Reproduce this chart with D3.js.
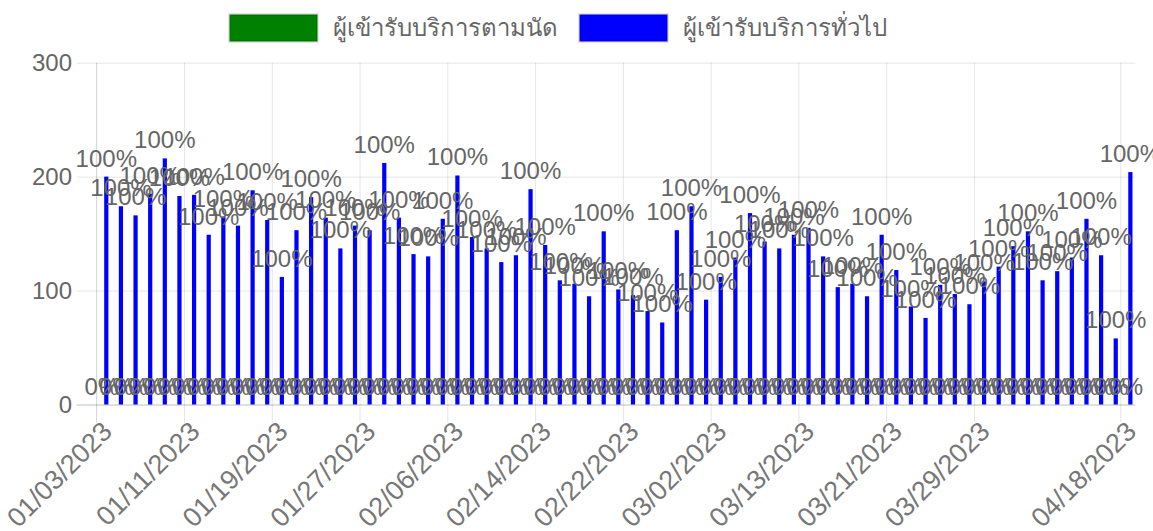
<meta charset="utf-8">
<head>
  <title>Daily visits</title>
</head>

<style>
body { margin: 0; background: #fff; }
text { font-family: "Liberation Sans", Arial, Helvetica, sans-serif; }
</style>

<body>
  <div id="content"></div>
  <script src="https://cdnjs.cloudflare.com/ajax/libs/d3/7.8.5/d3.min.js"></script>
  <script>

const width = 1153
const height = 531

// dates on the x axis (working days only)
var dates = [
  '01/03/2023','01/04/2023','01/05/2023','01/06/2023','01/09/2023','01/10/2023','01/11/2023',
  '01/12/2023','01/13/2023','01/16/2023','01/17/2023','01/18/2023','01/19/2023','01/20/2023',
  '01/23/2023','01/24/2023','01/25/2023','01/26/2023','01/27/2023','01/30/2023','01/31/2023',
  '02/01/2023','02/02/2023','02/03/2023','02/06/2023','02/07/2023','02/08/2023','02/09/2023',
  '02/10/2023','02/13/2023','02/14/2023','02/15/2023','02/16/2023','02/17/2023','02/20/2023',
  '02/21/2023','02/22/2023','02/23/2023','02/24/2023','02/27/2023','02/28/2023','03/01/2023',
  '03/02/2023','03/03/2023','03/07/2023','03/08/2023','03/09/2023','03/10/2023','03/13/2023',
  '03/14/2023','03/15/2023','03/16/2023','03/17/2023','03/20/2023','03/21/2023','03/22/2023',
  '03/23/2023','03/24/2023','03/27/2023','03/28/2023','03/29/2023','03/30/2023','03/31/2023',
  '04/03/2023','04/04/2023','04/05/2023','04/07/2023','04/10/2023','04/11/2023','04/12/2023',
  '04/18/2023'
]

// x tick labels that the chart shows
var xTickLabels = ['01/03/2023','01/11/2023','01/19/2023','01/27/2023','02/06/2023','02/14/2023',
  '02/22/2023','03/02/2023','03/13/2023','03/21/2023','03/29/2023','04/18/2023']

var yTicks = [0, 100, 200, 300]

// appointment visits (green)
var appointment = [
  0,0,0,0,0,0,0,0,0,0,0,0,0,0,0,0,0,0,0,0,0,0,0,0,
  0,0,0,0,0,0,0,0,0,0,0,0,0,0,0,0,0,0,0,0,0,0,0,0,
  0,0,0,0,0,0,0,0,0,0,0,0,0,0,0,0,0,0,0,0,0,0,0
]

// general visits (blue)
var general = [
  200,174,166,185,216,183,184,149,165,157,188,162,112,153,
  182,164,137,157,153,212,164,132,130,163,201,147,137,125,
  131,189,140,109,106,95,152,101,96,82,72,153,174,92,
  112,129,168,143,137,149,155,130,103,106,95,149,118,86,
  76,105,97,88,108,121,139,152,109,117,129,163,131,58,
  204
]

var seriesNames = ['ผู้เข้ารับบริการตามนัด', 'ผู้เข้ารับบริการทั่วไป']
var seriesColors = ['green', 'blue']

var rows = dates.map(function(d, i) {
  var total = appointment[i] + general[i]
  return {
    date: d,
    values: [appointment[i], general[i]],
    pct: [appointment[i], general[i]].map(function(v) {
      return total ? Math.round(v / total * 100) : 0
    })
  }
})

var plotLeft = 96.7, plotRight = 1135.4, plotTop = 62.7, plotBottom = 404.5

const svg = d3.select('#content')
  .append('svg')
    .attr('width', width)
    .attr('height', height)

var x = d3.scaleBand()
  .domain(dates)
  .range([plotLeft, plotRight])

var inner = d3.scaleBand()
  .domain([0, 1])
  .range([x.bandwidth() * 0.2, x.bandwidth() * 0.8])
  .paddingInner(0.08)

var y = d3.scaleLinear()
  .domain([0, 300])
  .range([plotBottom, plotTop])

// horizontal grid
svg.append('g')
  .attr('transform', 'translate(' + plotRight + ',0)')
  .call(d3.axisLeft(y).tickValues(yTicks).tickSize(plotRight - plotLeft + 20).tickFormat(''))
  .call(function(g) {
    g.select('.domain').remove()
    g.selectAll('line')
      .attr('stroke', function(d) { return d == 0 ? 'rgba(0,0,0,0.25)' : 'rgba(0,0,0,0.1)' })
  })

// y labels
svg.append('g')
  .selectAll('text')
  .data(yTicks)
  .enter()
  .append('text')
    .attr('x', 72)
    .attr('y', function(d) { return y(d) })
    .attr('dy', '0.35em')
    .attr('text-anchor', 'end')
    .attr('fill', '#666')
    .style('font-size', '24px')
    .text(function(d) { return d })

// vertical grid at the shown ticks (left edge of each category)
svg.append('g')
  .selectAll('line')
  .data(xTickLabels)
  .enter()
  .append('line')
    .attr('x1', function(d) { return x(d) })
    .attr('x2', function(d) { return x(d) })
    .attr('y1', plotTop)
    .attr('y2', plotBottom + 18)
    .attr('stroke', function(d, i) { return i == 0 ? 'rgba(0,0,0,0.18)' : 'rgba(0,0,0,0.1)' })

svg.append('g')
  .selectAll('text')
  .data(xTickLabels)
  .enter()
  .append('text')
    .attr('transform', function(d) {
      return 'translate(' + (x(d) + x.bandwidth() / 2 + 3) + ',' + (plotBottom + 22) + ') rotate(-45)'
    })
    .attr('dy', '0.35em')
    .attr('text-anchor', 'end')
    .attr('fill', '#777')
    .style('font-size', '27px')
    .text(function(d) { return d })

// bars
var groups = svg.append('g')
  .selectAll('g')
  .data(rows)
  .enter()
  .append('g')
    .attr('transform', function(d) { return 'translate(' + x(d.date) + ',0)' })

groups.selectAll('rect')
  .data(function(d) { return d.values })
  .enter()
  .append('rect')
    .attr('x', function(d, i) { return inner(i) })
    .attr('width', inner.bandwidth())
    .attr('y', function(d) { return y(d) })
    .attr('height', function(d) { return plotBottom - y(d) })
    .attr('fill', function(d, i) { return seriesColors[i] })

// data labels, first series then second
seriesNames.forEach(function(name, s) {
  svg.append('g')
    .selectAll('text')
    .data(rows)
    .enter()
    .append('text')
      .attr('x', function(d) { return x(d.date) + inner(s) + inner.bandwidth() / 2 })
      .attr('y', function(d) { return y(d.values[s]) - 10 })
      .attr('text-anchor', 'middle')
      .attr('fill', '#666')
      .style('font-size', '24px')
      .text(function(d) { return d.pct[s] + '%' })
})

// legend
var legend = svg.append('g').attr('transform', 'translate(228,0)')
var lx = 0
seriesNames.forEach(function(name, s) {
  var item = legend.append('g').attr('transform', 'translate(' + lx + ',0)')
  item.append('rect')
    .attr('x', 1.5)
    .attr('y', 14.5)
    .attr('width', 88)
    .attr('height', 27)
    .attr('fill', seriesColors[s])
    .attr('stroke', 'rgba(0,0,0,0.1)')
    .attr('stroke-width', 3)
  var t = item.append('text')
    .attr('x', 105)
    .attr('y', 28)
    .attr('dy', '0.35em')
    .attr('fill', '#666')
    .style('font-size', '24px')
    .text(name)
  lx += 105 + t.node().getComputedTextLength() + 20
})

</script>
</body>
